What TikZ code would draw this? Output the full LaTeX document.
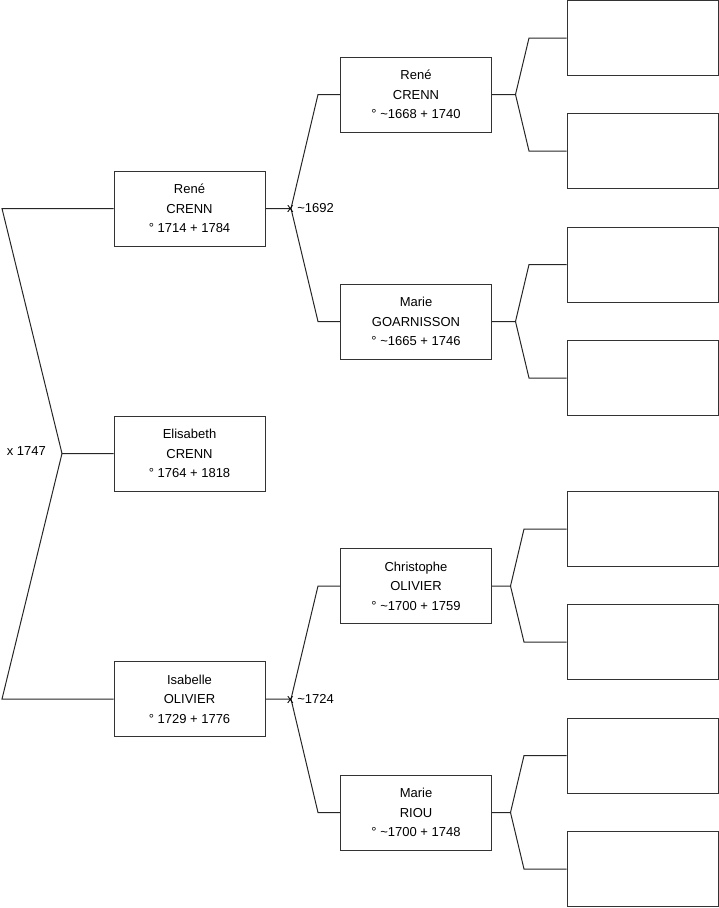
\documentclass[tikz,border=0pt]{standalone}
\usepackage{fontspec}
\setmainfont{Liberation Sans}
\usetikzlibrary{positioning}

\begin{document}
\begin{tikzpicture}[
  x=1pt, y=-1pt,
  person/.style={rectangle, draw=black!80, line width=1pt, fill=white,
                 minimum width=151pt, minimum height=75pt, inner sep=0pt,
                 align=center, font=\fontsize{13}{19.5}\selectfont},
  blank/.style={person},
  link/.style={draw=black!85, line width=1pt},
  marriage/.style={font=\fontsize{13}{14}\selectfont, inner sep=0pt}
]
\useasboundingbox (0,0) rectangle (719,908);

% Generation 1
\node[person] (elisabeth) at (189.5,453.5) {Elisabeth\\CRENN\\° 1764 + 1818};
\node[person] (rene1) at (189.5,208.5) {René\\CRENN\\° 1714 + 1784};
\node[person] (isabelle) at (189.5,699) {Isabelle\\OLIVIER\\° 1729 + 1776};

% Generation 2
\node[person] (rene2) at (416,94.5) {René\\CRENN\\° \textasciitilde1668 + 1740};
\node[person] (marieg) at (416,321.5) {Marie\\GOARNISSON\\° \textasciitilde1665 + 1746};
\node[person] (christophe) at (416,586) {Christophe\\OLIVIER\\° \textasciitilde1700 + 1759};
\node[person] (marier) at (416,812.5) {Marie\\RIOU\\° \textasciitilde1700 + 1748};

% Generation 3 (empty)
\node[blank] (g1) at (642.5,38) {};
\node[blank] (g2) at (642.5,151) {};
\node[blank] (g3) at (642.5,264.5) {};
\node[blank] (g4) at (642.5,378) {};
\node[blank] (g5) at (642.5,529) {};
\node[blank] (g6) at (642.5,642) {};
\node[blank] (g7) at (642.5,755.5) {};
\node[blank] (g8) at (642.5,869) {};

% Forks
\coordinate (f0) at (62,453.5);
\coordinate (a0) at (2,208.5);
\coordinate (b0) at (2,699);
\coordinate (f1) at (291,208.5);
\coordinate (a1) at (318,94.5);
\coordinate (b1) at (318,321.5);
\coordinate (f2) at (291,699);
\coordinate (a2) at (318,586);
\coordinate (b2) at (318,812.5);

\draw[link] (elisabeth.west) -- (f0) -- (a0) -- (rene1.west);
\draw[link] (f0) -- (b0) -- (isabelle.west);
\node[marriage, anchor=east] (m0) at ([xshift=-16pt,yshift=2pt]f0) {x 1747};

\draw[link] (rene1.east) -- (f1) -- (a1) -- (rene2.west);
\draw[link] (f1) -- (b1) -- (marieg.west);
\node[marriage, anchor=west] (m1) at ([xshift=-4pt]f1) {x \textasciitilde1692};

\draw[link] (isabelle.east) -- (f2) -- (a2) -- (christophe.west);
\draw[link] (f2) -- (b2) -- (marier.west);
\node[marriage, anchor=west] (m2) at ([xshift=-4pt]f2) {x \textasciitilde1724};

% Generation 2 to 3
\coordinate (f3) at (515.5,94.5);
\coordinate (f4) at (515.5,321.5);
\coordinate (f5) at (510.5,586);
\coordinate (f6) at (510.5,812.5);
\draw[link] (rene2.east) -- (f3) -- (529,38) -- (g1.west);
\draw[link] (f3) -- (529,151) -- (g2.west);
\draw[link] (marieg.east) -- (f4) -- (529,264.5) -- (g3.west);
\draw[link] (f4) -- (529,378) -- (g4.west);
\draw[link] (christophe.east) -- (f5) -- (524,529) -- (g5.west);
\draw[link] (f5) -- (524,642) -- (g6.west);
\draw[link] (marier.east) -- (f6) -- (524,755.5) -- (g7.west);
\draw[link] (f6) -- (524,869) -- (g8.west);

\end{tikzpicture}
\end{document}
